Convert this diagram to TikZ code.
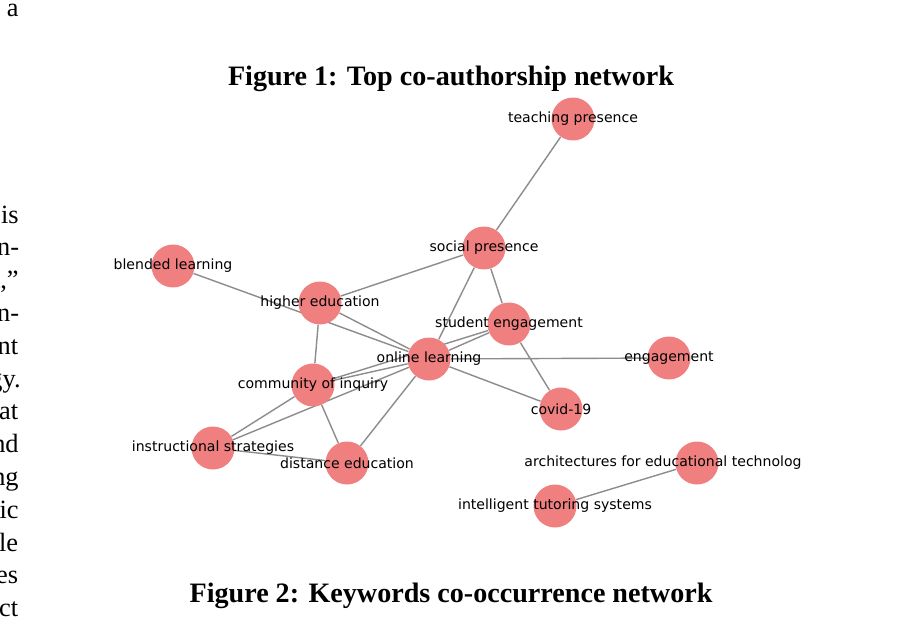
\documentclass[tikz,border=0pt]{standalone}
\usepackage{fontspec}
\setmainfont{Liberation Serif}
\newfontfamily\netfont{DejaVu Sans}
\usetikzlibrary{backgrounds}
\definecolor{lightcoral}{RGB}{240,128,128}

\begin{document}
\begin{tikzpicture}[x=0.02cm,y=-0.02cm,
  kw/.style={circle,fill=lightcoral,minimum size=0.86cm,inner sep=0pt},
  lbl/.style={font=\netfont\fontsize{8}{9.6}\selectfont,inner sep=0pt},
  link/.style={draw=gray!90,line width=0.8pt},
  body/.style={anchor=base east,font=\fontsize{15}{18}\selectfont,inner sep=0pt},
  figcap/.style={anchor=base,font=\bfseries\fontsize{16}{19}\selectfont,inner sep=0pt}]
\useasboundingbox (0,0) rectangle (908,635);
% cut-off column text on the left
\node[body] (a0) at (19,17) {a};
\node[body] (c1) at (19,223) {is}; \node[body] (c2) at (19.5,255.8) {n-};
\node[body] (c3) at (19,288.6) {t,''}; \node[body] (c4) at (19.5,321.4) {n-};
\node[body] (c5) at (18.5,354.2) {nt}; \node[body] (c6) at (21,387) {gy.};
\node[body] (c7) at (18.5,419.8) {at}; \node[body] (c8) at (19,452.6) {nd};
\node[body] (c9) at (19,485.4) {ng}; \node[body] (c10) at (19,518.2) {ic};
\node[body] (c11) at (18.5,551) {le}; \node[body] (c12) at (18.5,583.8) {es};
\node[body] (c13) at (18.5,616.6) {ct};
% captions
\node[figcap] (fig1) at (451,86) {Figure 1: Top co-authorship network};
\node[figcap] (fig2) at (451,602) {Figure 2: Keywords co-occurrence network};
% keywords
\node[kw,label={[lbl]center:teaching presence}] (tp) at (573,119) {};
\node[kw,label={[lbl]center:social presence}] (sp) at (484,248) {};
\node[kw,label={[lbl]center:blended learning}] (bl) at (173,266) {};
\node[kw,label={[lbl]center:higher education}] (he) at (320,303) {};
\node[kw,label={[lbl]center:student engagement}] (se) at (509,324) {};
\node[kw,label={[lbl]center:online learning}] (ol) at (429,359) {};
\node[kw,label={[lbl]center:engagement}] (en) at (669,358) {};
\node[kw,label={[lbl]center:community of inquiry}] (ci) at (313,385) {};
\node[kw,label={[lbl]center:covid-19}] (cv) at (561,409) {};
\node[kw,label={[lbl]center:instructional strategies}] (is) at (213,448) {};
\node[kw,label={[lbl]center:distance education}] (de) at (347,463) {};
\node[kw,label={[lbl,xshift=-0.68cm]center:architectures for educational technolog}] (ar) at (697,463) {};
\node[kw,label={[lbl]center:intelligent tutoring systems}] (it) at (555,506) {};
% co-occurrence links
\begin{scope}[on background layer]
\draw[link] (tp) -- (sp) (sp) -- (he) (sp) -- (ol) (sp) -- (se);
\draw[link] (bl) -- (ol) (he) -- (ol) (he) -- (ci) (se) -- (ol) (ci) -- (se);
\draw[link] (ci) -- (ol) (is) -- (ci) (is) -- (ol) (is) -- (de) (ci) -- (de);
\draw[link] (ol) -- (de) (ol) -- (en) (ol) -- (cv) (se) -- (cv) (ar) -- (it);
\end{scope}
\end{tikzpicture}
\end{document}
